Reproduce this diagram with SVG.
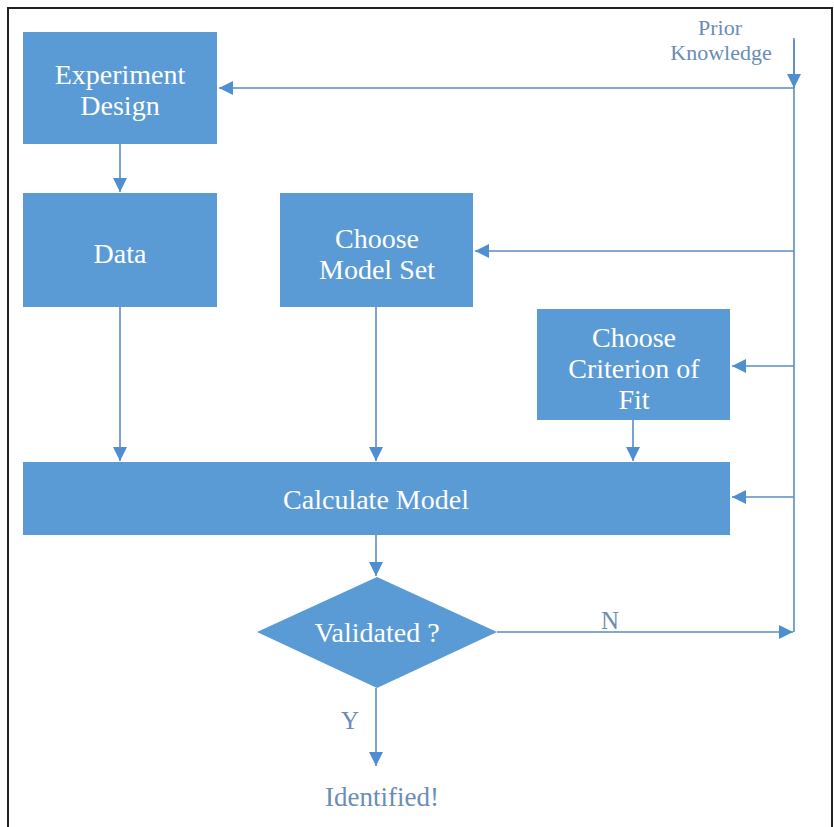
<svg xmlns="http://www.w3.org/2000/svg" width="834" height="827" viewBox="0 0 834 827">
<defs>
<style>
.box{fill:#5B9BD5;}
.lbl{font-family:'Liberation Serif',serif;font-size:28px;fill:#ffffff;text-anchor:middle;}
.ext{font-family:'Liberation Serif',serif;font-size:25px;fill:#6A8DB5;text-anchor:middle;}
.ln{stroke:#5A8DC4;stroke-width:1.6;fill:none;}
</style>
<marker id="ahl" viewBox="0 0 10 10" refX="10" refY="5" markerWidth="18" markerHeight="14" markerUnits="userSpaceOnUse" orient="auto">
<path d="M0,0 L10,5 L0,10 Z" fill="#4F8FD0"/>
</marker>
</defs>
<rect x="0" y="0" width="834" height="827" fill="#ffffff"/>
<path d="M8,840 L8,8 L832,8 L832,840" fill="none" stroke="#222222" stroke-width="2"/>

<g id="connectors">
<path class="ln" d="M794,38 L794,632" />
<path class="ln" d="M794,40 L794,88" marker-end="url(#ahl)"/>
<path class="ln" d="M794,88 L219,88" marker-end="url(#ahl)"/>
<path class="ln" d="M794,251 L475,251" marker-end="url(#ahl)"/>
<path class="ln" d="M794,366 L732,366" marker-end="url(#ahl)"/>
<path class="ln" d="M794,497 L732,497" marker-end="url(#ahl)"/>
<path class="ln" d="M497,632 L793,632" marker-end="url(#ahl)"/>
<path class="ln" d="M120,144 L120,192" marker-end="url(#ahl)"/>
<path class="ln" d="M120,307 L120,461" marker-end="url(#ahl)"/>
<path class="ln" d="M376,307 L376,461" marker-end="url(#ahl)"/>
<path class="ln" d="M633,420 L633,461" marker-end="url(#ahl)"/>
<path class="ln" d="M376,535 L376,576" marker-end="url(#ahl)"/>
<path class="ln" d="M376,688 L376,766" marker-end="url(#ahl)"/>
<text class="ext" x="610" y="629" font-family="Liberation Serif">N</text>
<text class="ext" x="350" y="729" font-family="Liberation Serif">Y</text>
</g>

<g id="prior">
<text class="ext" x="720" y="35" font-family="Liberation Serif" style="font-size:22px">Prior</text>
<text class="ext" x="721" y="60" font-family="Liberation Serif" style="font-size:22px">Knowledge</text>
</g>

<g id="experiment-design">
<rect class="box" x="23" y="32" width="194" height="112"/>
<text class="lbl" x="120" y="84" font-family="Liberation Serif">Experiment</text>
<text class="lbl" x="120" y="115" font-family="Liberation Serif">Design</text>
</g>

<g id="data">
<rect class="box" x="23" y="193" width="194" height="114"/>
<text class="lbl" x="120" y="263" font-family="Liberation Serif">Data</text>
</g>

<g id="choose-model-set">
<rect class="box" x="280" y="193" width="193" height="114"/>
<text class="lbl" x="377" y="248" font-family="Liberation Serif">Choose</text>
<text class="lbl" x="377" y="279" font-family="Liberation Serif">Model Set</text>
</g>

<g id="choose-criterion">
<rect class="box" x="537" y="309" width="193" height="111"/>
<text class="lbl" x="634" y="347" font-family="Liberation Serif">Choose</text>
<text class="lbl" x="634" y="378" font-family="Liberation Serif">Criterion of</text>
<text class="lbl" x="634" y="409" font-family="Liberation Serif">Fit</text>
</g>

<g id="calculate-model">
<rect class="box" x="23" y="462" width="707" height="73"/>
<text class="lbl" x="376" y="509" font-family="Liberation Serif">Calculate Model</text>
</g>

<g id="validated">
<polygon class="box" points="377,577 497,632 377,688 257,632"/>
<text class="lbl" x="377" y="642" font-family="Liberation Serif">Validated ?</text>
</g>

<g id="identified">
<text class="ext" x="382" y="806" font-family="Liberation Serif" style="font-size:27px">Identified!</text>
</g>
</svg>
